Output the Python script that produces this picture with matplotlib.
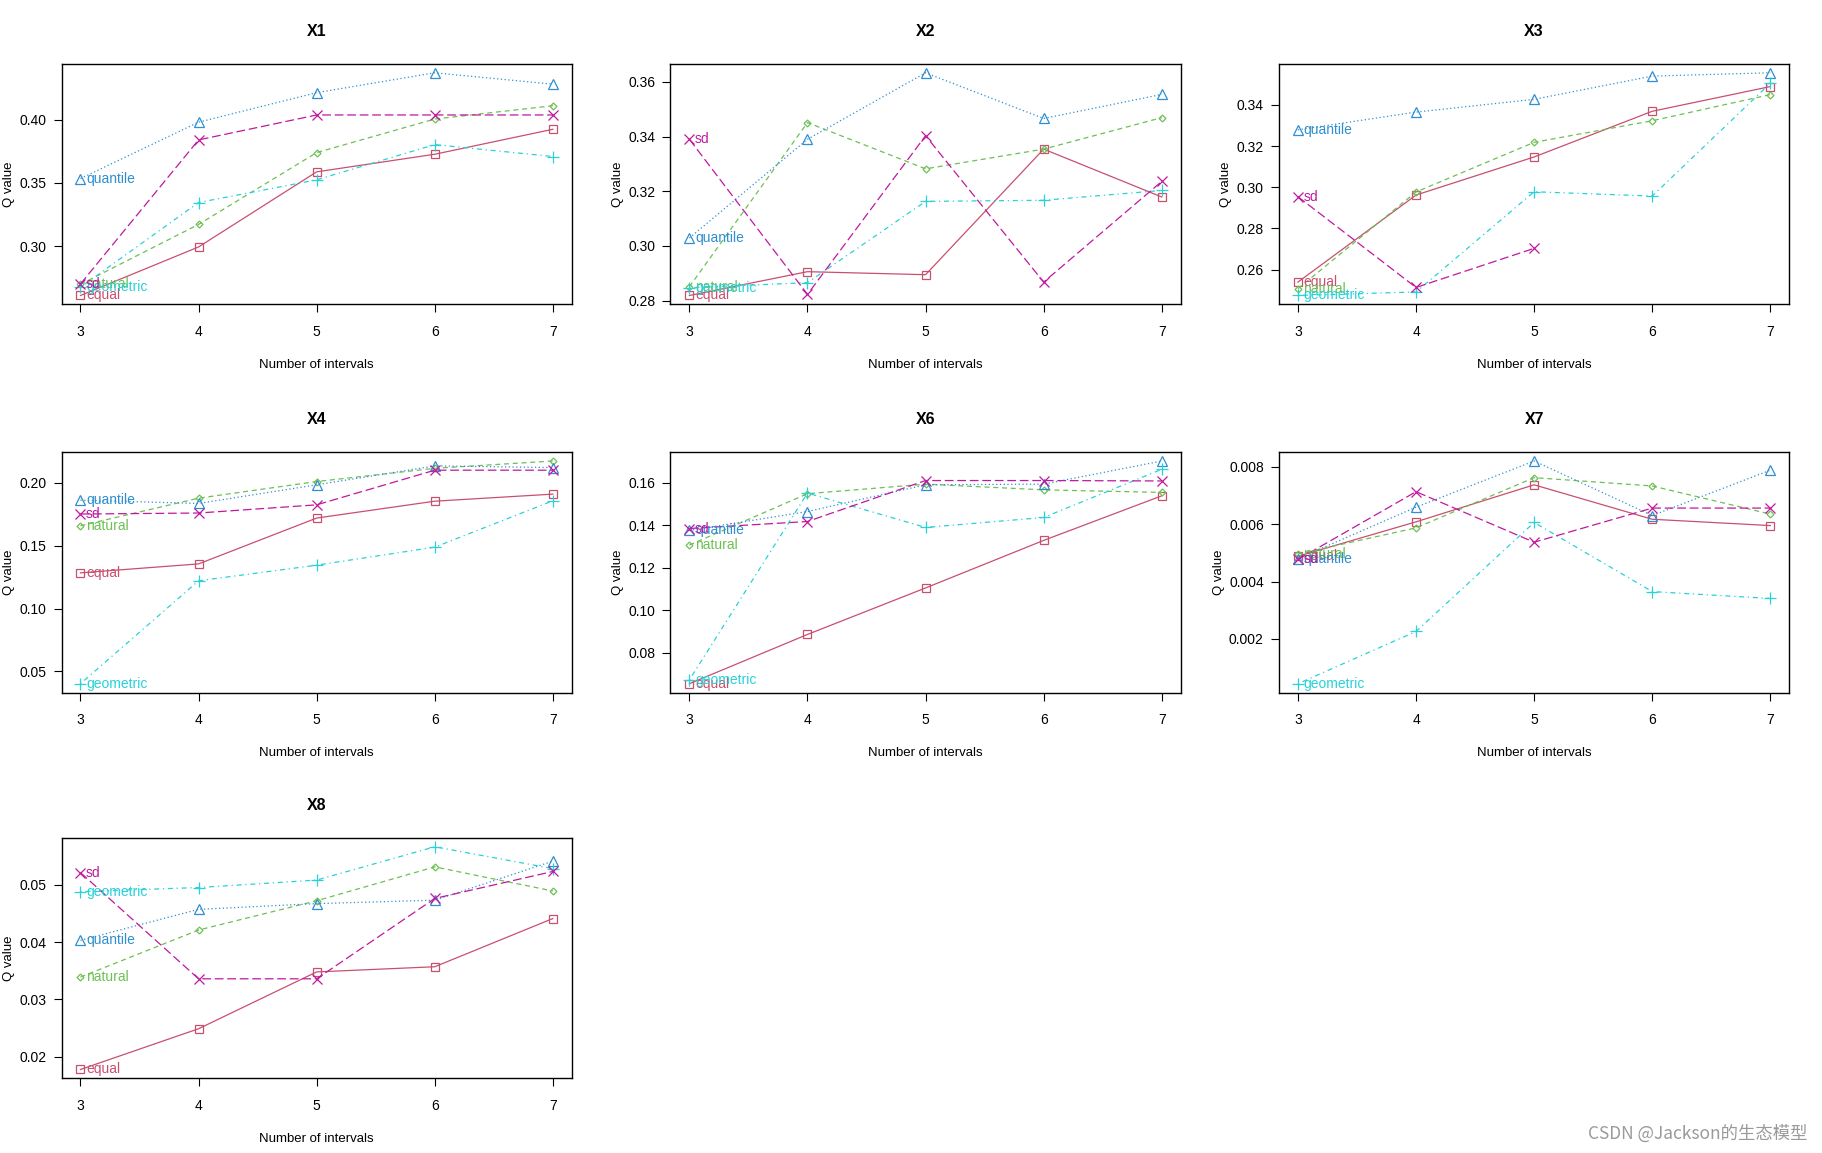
import numpy as np
import matplotlib.pyplot as plt

plt.rcParams['font.family'] = ['Liberation Sans', 'DejaVu Sans']

intervals = [3, 4, 5, 6, 7]
panels = ["X1", "X2", "X3", "X4", "X6", "X7", "X8"]
methods = ["equal", "natural", "quantile", "geometric", "sd"]

# Q values per panel, per method (order: 3..7 intervals)
equal = {
    "X1": [0.2612, 0.2995, 0.3588, 0.3727, 0.3924],
    "X2": [0.2819, 0.2906, 0.2895, 0.3354, 0.3179],
    "X3": [0.2539, 0.2962, 0.3147, 0.3369, 0.3489],
    "X4": [0.1283, 0.1354, 0.1718, 0.1852, 0.1908],
    "X6": [0.0654, 0.0886, 0.1105, 0.1329, 0.1539],
    "X7": [0.00488, 0.00608, 0.00737, 0.00617, 0.00595],
    "X8": [0.0178, 0.0249, 0.0348, 0.0357, 0.0441],
}
natural = {
    "X1": [0.2700, 0.3173, 0.3740, 0.4005, 0.4110],
    "X2": [0.2851, 0.3451, 0.3282, 0.3354, 0.3469],
    "X3": [0.2507, 0.2977, 0.3218, 0.3323, 0.3450],
    "X4": [0.1657, 0.1876, 0.2008, 0.2113, 0.2171],
    "X6": [0.1307, 0.1549, 0.1594, 0.1567, 0.1555],
    "X7": [0.00496, 0.00587, 0.00762, 0.00733, 0.00635],
    "X8": [0.0339, 0.0421, 0.0472, 0.0531, 0.0489],
}
quantile = {
    "X1": [0.3535, 0.3980, 0.4213, 0.4370, 0.4280],
    "X2": [0.3029, 0.3390, 0.3633, 0.3466, 0.3554],
    "X3": [0.3279, 0.3365, 0.3427, 0.3540, 0.3556],
    "X4": [0.1860, 0.1834, 0.1982, 0.2132, 0.2119],
    "X6": [0.1376, 0.1465, 0.1591, 0.1594, 0.1703],
    "X7": [0.00480, 0.00659, 0.00820, 0.00630, 0.00788],
    "X8": [0.0403, 0.0457, 0.0467, 0.0473, 0.0541],
}
geometric = {
    "X1": [0.2677, 0.3346, 0.3525, 0.3803, 0.3709],
    "X2": [0.2847, 0.2866, 0.3163, 0.3167, 0.3203],
    "X3": [0.2474, 0.2491, 0.2978, 0.2957, 0.3505],
    "X4": [0.0403, 0.1220, 0.1344, 0.1487, 0.1855],
    "X6": [0.0672, 0.1552, 0.1390, 0.1437, 0.1664],
    "X7": [0.00044, 0.00226, 0.00606, 0.00365, 0.00341],
    "X8": [0.0488, 0.0495, 0.0508, 0.0566, 0.0528],
}
sd = {
    "X1": [0.2703, 0.3840, 0.4037, 0.4037, 0.4037],
    "X2": [0.3390, 0.2823, 0.3403, 0.2868, 0.3236],
    "X3": [0.2954, 0.2513, 0.2703, np.nan, np.nan],
    "X4": [0.1750, 0.1758, 0.1823, 0.2098, 0.2098],
    "X6": [0.1385, 0.1418, 0.1611, 0.1611, 0.1609],
    "X7": [0.00477, 0.00713, 0.00537, 0.00656, 0.00656],
    "X8": [0.0521, 0.0336, 0.0336, 0.0476, 0.0523],
}
series = {"equal": equal, "natural": natural, "quantile": quantile,
          "geometric": geometric, "sd": sd}

y_ticks = {
    "X1": [0.30, 0.35, 0.40],
    "X2": [0.28, 0.30, 0.32, 0.34, 0.36],
    "X3": [0.26, 0.28, 0.30, 0.32, 0.34],
    "X4": [0.05, 0.10, 0.15, 0.20],
    "X6": [0.08, 0.10, 0.12, 0.14, 0.16],
    "X7": [0.002, 0.004, 0.006, 0.008],
    "X8": [0.02, 0.03, 0.04, 0.05],
}
y_fmt = {"X1": "%.2f", "X2": "%.2f", "X3": "%.2f", "X4": "%.2f",
         "X6": "%.2f", "X7": "%.3f", "X8": "%.2f"}

styles = {
    "equal":     dict(color="#C8506F", ls="-", marker="s", ms=6),
    "natural":   dict(color="#6DC053", ls=(0, (4, 3)), marker="D", ms=3.5),
    "quantile":  dict(color="#2F8FD0", ls=(0, (1, 2)), marker="^", ms=6.5),
    "geometric": dict(color="#28D2D8", ls=(0, (1, 3, 4, 3)), marker="+", ms=9),
    "sd":        dict(color="#C0189F", ls=(0, (7, 3)), marker="x", ms=6.5),
}

fig = plt.figure(figsize=(18.22, 11.53), dpi=100)
col_left = [0.0338, 0.368, 0.702]
row_bottom = [0.736, 0.3993, 0.0647]
w, h = 0.280, 0.2086

for i, name in enumerate(panels):
    r, c = divmod(i, 3)
    ax = fig.add_axes([col_left[c], row_bottom[r], w, h])
    allv = []
    for m in methods:
        vals = np.array(series[m][name], dtype=float)
        allv.extend(vals[~np.isnan(vals)])
        st = styles[m]
        ax.plot(intervals, vals, color=st["color"], ls=st["ls"], lw=0.9,
                marker=st["marker"], ms=st["ms"], mfc="none",
                mec=st["color"], mew=0.9)
        ax.annotate(m, (intervals[0], vals[0]), xytext=(4, 0),
                    textcoords="offset points", va="center", ha="left",
                    color=st["color"], fontsize=10)
    lo, hi = min(allv), max(allv)
    pad = (hi - lo) * 0.04
    ax.set_ylim(lo - pad, hi + pad)
    ax.set_xlim(3 - 0.16, 7 + 0.16)
    ax.set_xticks(intervals)
    ax.set_yticks(y_ticks[name])
    ax.set_yticklabels([y_fmt[name] % v for v in y_ticks[name]])
    ax.tick_params(direction="out", length=6, width=0.8, labelsize=10, pad=9)
    ax.tick_params(axis="y", pad=5)
    for s in ax.spines.values():
        s.set_linewidth(1.0)
    ax.set_title(name, fontsize=11.5, fontweight="bold", pad=20)
    ax.set_xlabel("Number of intervals", fontsize=9.5, labelpad=14)
    ax.set_ylabel("Q value", fontsize=9.5, labelpad=3)

fig.text(0.992, 0.017, "CSDN @Jackson的生态模型", ha="right", va="center",
         color="#9A9A9A", fontsize=12.5,
         family=["Noto Sans CJK SC", "DejaVu Sans"])

fig.savefig("out.png", dpi=100)
